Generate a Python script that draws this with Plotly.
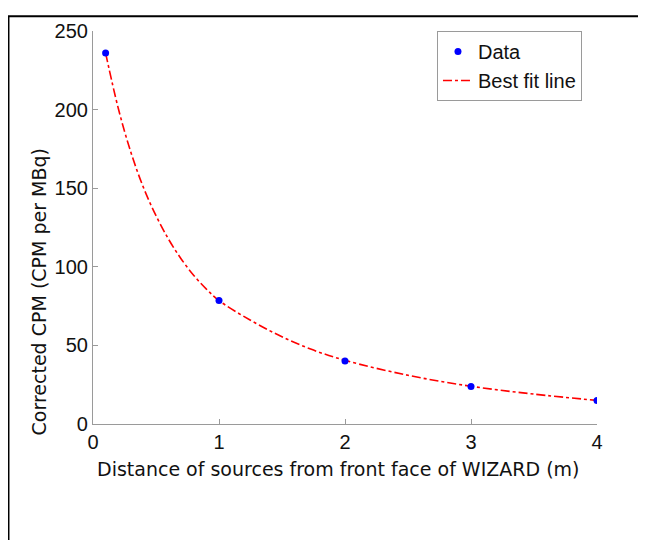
import plotly.graph_objects as go

# Measured data
distance_m = [0.1, 1, 2, 3, 4]
corrected_cpm = [236, 78.5, 40, 23.8, 15]

# Best-fit curve
fit_x = [0.1, 0.2, 0.3, 0.4, 0.5, 0.6, 0.7, 0.8, 0.9, 1.0, 1.25, 1.5, 1.75, 2.0, 2.5, 3.0, 3.5, 4.0]
fit_y = [236, 201, 173, 150.5, 132.5, 117.5, 105, 94.5, 85.8, 78.5, 66, 55.5, 47, 40.5, 31, 24, 19, 15]

x_ticks = [0, 1, 2, 3, 4]
y_ticks = [0, 50, 100, 150, 200, 250]

x_title = "Distance of sources from front face of WIZARD (m)"
y_title = "Corrected CPM (CPM per MBq)"

fig = go.Figure()
fig.add_trace(go.Scatter(
    x=fit_x, y=fit_y, mode="lines", name="Best fit line",
    line=dict(color="#ff0000", width=1.6, dash="dashdot", shape="spline"),
    showlegend=False,
))
fig.add_trace(go.Scatter(
    x=distance_m, y=corrected_cpm, mode="markers", name="Data",
    marker=dict(color="#0000ff", size=7),
))
# legend-only copy of the fit line so that it appears second
fig.add_trace(go.Scatter(
    x=[None], y=[None], mode="lines", name="Best fit line",
    line=dict(color="#ff0000", width=1.6, dash="dashdot"),
))

axis_common = dict(
    showline=True, linecolor="#9a9a9a", linewidth=1.2,
    ticks="inside", ticklen=5, tickcolor="#9a9a9a", tickwidth=1,
    showgrid=False, zeroline=False,
    tickfont=dict(family="Liberation Sans, Arial", size=20, color="#111"),
)

title_font = dict(family="DejaVu Sans, Verdana", size=19, color="#111")

fig.update_layout(
    width=638, height=532,
    margin=dict(l=85, r=49, t=16, b=116),
    paper_bgcolor="white", plot_bgcolor="white",
    xaxis=dict(range=[0, 4], tickvals=x_ticks, ticktext=[str(v) for v in x_ticks],
               **axis_common),
    yaxis=dict(range=[0, 250], tickvals=y_ticks, ticktext=[str(v) for v in y_ticks],
               **axis_common),
    legend=dict(x=0.6825, y=1.0, xanchor="left", yanchor="top",
                bordercolor="#9a9a9a", borderwidth=1, bgcolor="white",
                font=dict(family="Liberation Sans, Arial", size=20, color="#111"),
                tracegroupgap=0),
    annotations=[
        dict(text=x_title, xref="paper", yref="paper", x=0.486, y=-0.115,
             xanchor="center", yanchor="middle", showarrow=False, font=title_font),
        dict(text=y_title, xref="paper", yref="paper", x=-0.107, y=0.335,
             xanchor="center", yanchor="middle", showarrow=False, textangle=-90,
             font=title_font),
    ],
    shapes=[dict(type="path", xref="paper", yref="paper",
                 path="M -0.1677,-0.35 L -0.1677,1.0375 L 1.2,1.0375",
                 line=dict(color="black", width=2))],
)

fig.write_html("out.html")
